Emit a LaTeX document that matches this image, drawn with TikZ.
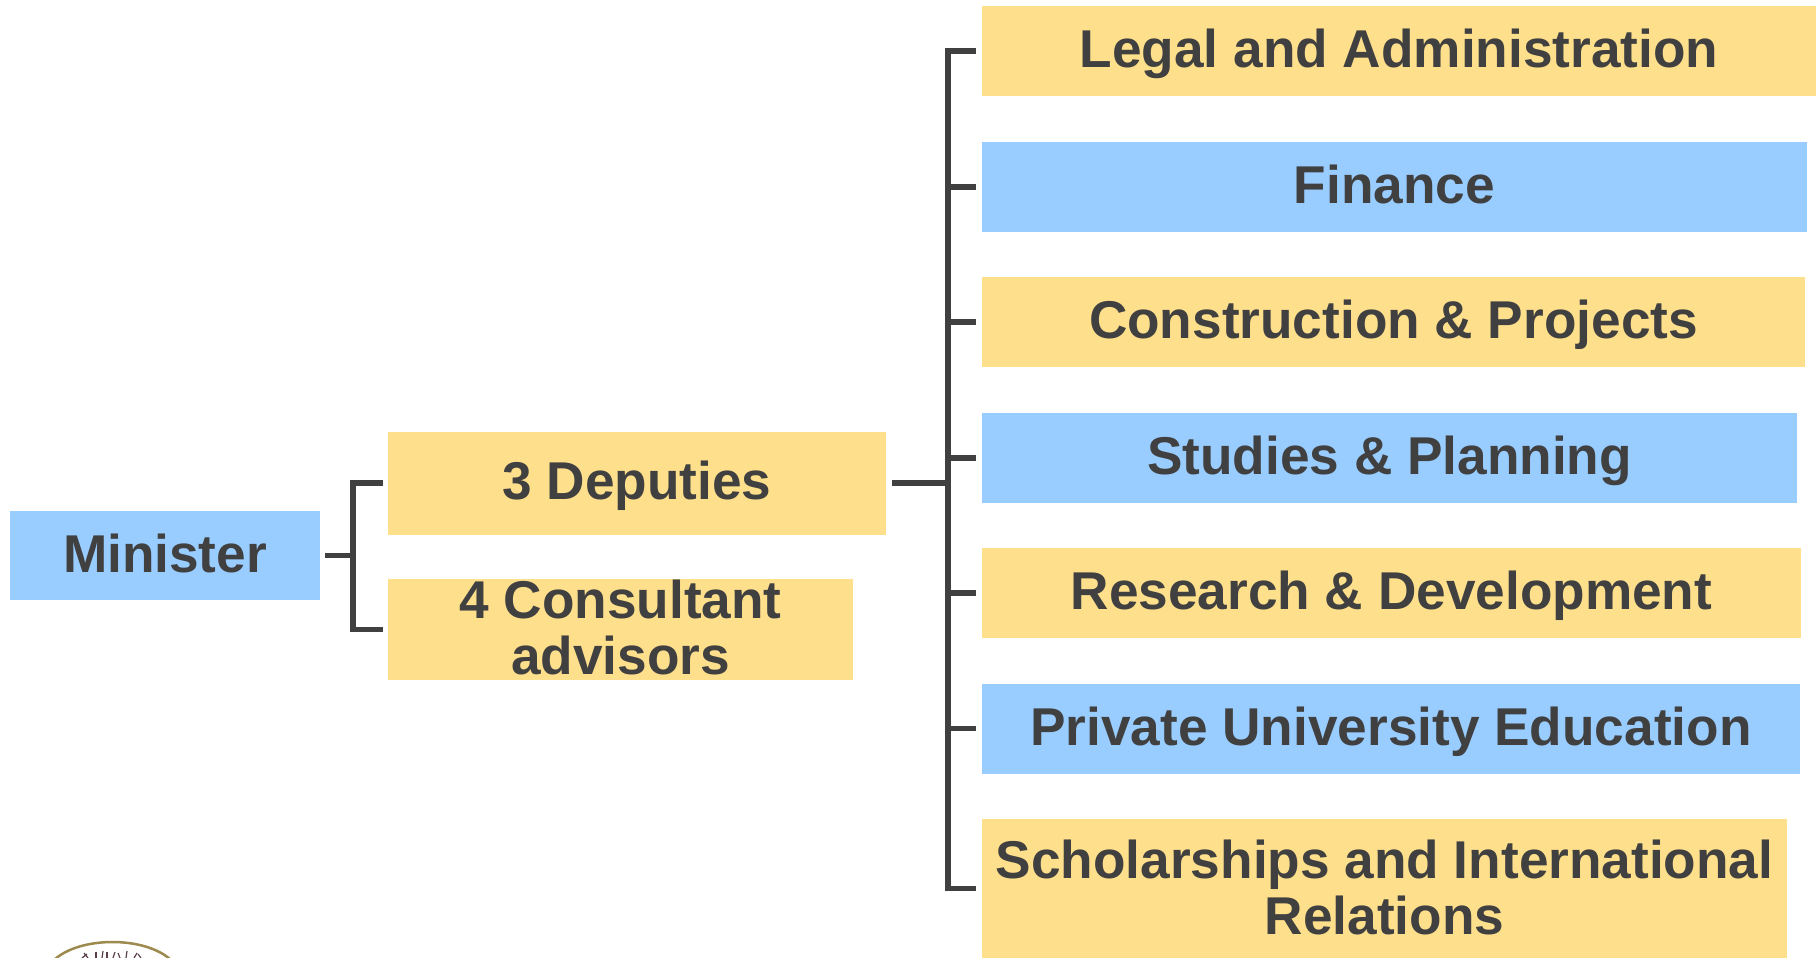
\documentclass[tikz,border=0pt]{standalone}
\usepackage{xcolor}
\usepackage{fontspec}
\setmainfont{Liberation Sans}
\usetikzlibrary{positioning, calc}
\definecolor{boxyellow}{HTML}{FEDF8C}
\definecolor{boxblue}{HTML}{99CCFF}
\definecolor{inkgray}{HTML}{404040}
\definecolor{sealgold}{HTML}{9C8A4E}
\definecolor{sealink}{HTML}{5A4048}
\tikzset{
  orgbox/.style={inner sep=0pt, align=center, text=inkgray,
    font=\fontsize{53.2}{55.5}\selectfont\bfseries},
  oneline/.style={text height=38pt, text depth=4.6pt},
  yellowbox/.style={orgbox, fill=boxyellow},
  bluebox/.style={orgbox, fill=boxblue},
  link/.style={draw=inkgray, line width=5.5pt}
}

\begin{document}
\begin{tikzpicture}[x=1pt, y=-1pt]
\useasboundingbox (0,0) rectangle (1816,958);
% Minister
\node[bluebox, oneline, minimum width=310pt, minimum height=89pt] (minister) at (165,555.5) {Minister};
% Second level
\node[yellowbox, oneline, minimum width=498pt, minimum height=103pt] (deputies) at (637,483) {3 Deputies};
\node[yellowbox, text depth=5pt, minimum width=465pt, minimum height=101pt] (advisors) at (620.5,629.5) {4 Consultant\\advisors};
% Departments
\node[yellowbox, oneline, minimum width=834pt, minimum height=90pt] (legal) at (1399,51) {Legal and Administration};
\node[bluebox, oneline, minimum width=825pt, minimum height=90pt] (finance) at (1394.5,187) {Finance};
\node[yellowbox, oneline, minimum width=823pt, minimum height=90pt] (projects) at (1393.5,322) {Construction \& Projects};
\node[bluebox, oneline, minimum width=815pt, minimum height=90pt] (planning) at (1389.5,458) {Studies \& Planning};
\node[yellowbox, oneline, minimum width=819pt, minimum height=90pt] (research) at (1391.5,593) {Research \& Development};
\node[bluebox, oneline, minimum width=818pt, minimum height=90pt] (private) at (1391,728.5) {Private University Education};
\node[yellowbox, text depth=2.5pt, minimum width=805pt, minimum height=139pt] (scholar) at (1384.5,888.5) {Scholarships and International\\Relations};
% Connectors
\coordinate (lefttrunk) at (353,555.5);
\coordinate (righttrunk) at (948,483);
\draw[link, shorten <=5pt] (minister.east) -- (lefttrunk);
\foreach \n in {deputies, advisors}
  \draw[link, shorten >=5pt] (lefttrunk) |- (\n.west);
\draw[link, shorten <=6pt] (deputies.east) -- (righttrunk);
\foreach \n in {legal, finance, projects, planning, research, private, scholar}
  \draw[link, shorten >=6pt] (righttrunk) |- (\n.west);
% Seal
\begin{scope}
\clip (0,900) rectangle (240,958);
\draw[sealgold, line width=2.5pt] (54,960) .. controls (80,936) and (145,936) .. (171,960);
\foreach \x/\s/\t in {82/5/4,88/-4/5,96/0/6,102/1/7,107/0/6,113/2/6,120/-2/5,126/1/7,134/3/5,141/-3/4}
  \draw[sealink, line width=1.2pt] (\x,958) -- (\x+\s,958-\t);
\end{scope}
\end{tikzpicture}
\end{document}
